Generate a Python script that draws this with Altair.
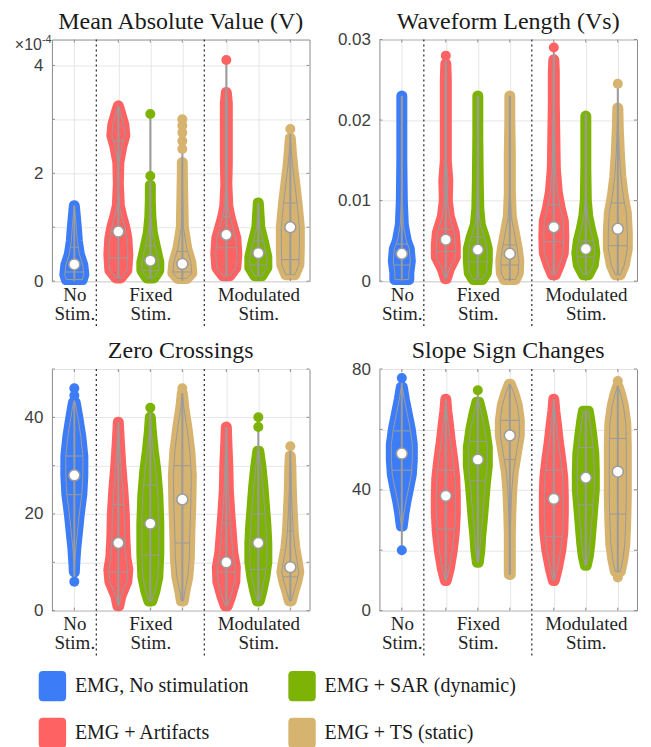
import json
import altair as alt
import numpy as np
import pandas as pd

# ---------------- categories / styling constants ----------------
GROUP_NAMES = ["EMG, No stimulation", "EMG + Artifacts", "EMG + SAR (dynamic)", "EMG + TS (static)"]
GROUP_COLORS = ["#3c7df7", "#fe6262", "#7cb305", "#d6b36f"]

VIOLIN_POS = [0, 1.375, 2.375, 3.375, 4.75, 5.75, 6.75]
VIOLIN_GROUP = [0, 1, 2, 3, 1, 2, 3]
SEPARATORS = [0.6875, 4.0625]
X_LABEL_POS = [0, 2.375, 5.75]
X_LABEL_LINES = [["No", "Stim."], ["Fixed", "Stim."], ["Modulated", "Stim."]]
X_DOMAIN = [-0.7, 7.35]
PX_PER_UNIT = 32.0

# ---------------- Mean Absolute Value (x1e-4 V) ----------------
MAV_LEVELS = [
    [0.03, 0.12, 0.3, 0.5, 0.75, 1.0, 1.2, 1.4],
    [0.06, 0.2, 0.5, 0.8, 1.0, 1.2, 1.4, 1.8, 2.2, 2.5, 2.7, 2.9, 3.1, 3.25],
    [0.06, 0.2, 0.35, 0.6, 0.9, 1.2, 1.5, 1.78],
    [0.05, 0.15, 0.35, 0.6, 1.0, 1.5, 2.0, 2.2],
    [0.1, 0.25, 0.5, 0.8, 1.0, 1.2, 1.4, 1.8, 2.2, 2.6, 3.0, 3.3, 3.5],
    [0.1, 0.25, 0.45, 0.7, 1.0, 1.3, 1.45],
    [0.12, 0.3, 0.6, 1.0, 1.4, 1.8, 2.1, 2.4, 2.65],
]
MAV_HALFW = [
    [8, 9.5, 8.5, 5, 3, 2, 1, 0],
    [2.5, 8.5, 9.5, 8.5, 6.5, 3.5, 1, 0, 0.5, 3.5, 6.5, 5.5, 2.5, 0],
    [3.5, 8.5, 8.5, 5.5, 2, 0.5, 0, 0],
    [4.5, 9.5, 8.5, 4.5, 1, 0.5, 0, 0],
    [3.5, 9.5, 10.5, 9.5, 6.5, 3.5, 1.5, 0.5, 1, 1, 1, 1, 0],
    [3.5, 8.5, 8.5, 5.5, 1.5, 0.5, 0],
    [4.5, 8.5, 9, 9, 7, 4.5, 2.5, 1, 0],
]
MAV_RANGE = [(0.0, 1.4), (0.05, 3.25), (0.05, 3.1), (0.05, 3.0), (0.1, 4.1), (0.1, 1.45), (0.12, 2.82)]
MAV_QUART = [(0.17, 0.63), (0.43, 2.6), (0.2, 0.65), (0.17, 0.55), (0.62, 1.2), (0.3, 0.75), (0.4, 1.45)]
MAV_MEDIAN = [0.31, 0.92, 0.38, 0.32, 0.86, 0.52, 1.0]
MAV_OUTLIERS = [[], [], [1.95, 3.1], [2.45, 2.6, 2.75, 2.88, 3.0], [4.1], [], [2.82]]

# ---------------- Waveform Length (x1e-3 Vs) ----------------
WL_LEVELS = [
    [0.2, 1.0, 2.5, 4.0, 5.0, 7.0, 10, 15, 20, 23],
    [0.3, 1.5, 3.0, 4.5, 6.0, 8.0, 10, 12.5, 15, 20, 25, 27],
    [0.2, 1.0, 2.5, 4.0, 5.5, 7.0, 9.0, 12, 18, 23],
    [0.2, 1.0, 2.5, 4.0, 6.0, 8.0, 11, 16, 20, 23],
    [0.8, 2.0, 3.5, 5.5, 7.5, 9.0, 11, 14, 18, 22, 26, 27.5],
    [0.8, 2.0, 3.5, 5.0, 6.5, 8.0, 10, 14, 18, 20.5],
    [0.8, 2.0, 4.0, 6.0, 8.5, 10.5, 13, 16, 19, 21.5],
]
WL_HALFW = [
    [7, 7, 8.5, 7.5, 4.5, 1.5, 0.5, 0, 0, 0],
    [0.5, 3.5, 9.5, 9.5, 8.5, 3.5, 1.5, 2, 0.5, 0.5, 0.5, 0],
    [4.5, 8.5, 9.5, 9.5, 6.5, 2.5, 1, 0.5, 0, 0],
    [5.5, 8.5, 9, 7.5, 4.5, 1.5, 0.5, 0.5, 0, 0],
    [1.5, 5.5, 9.5, 10, 9.5, 6.5, 3.5, 1.5, 1, 0.5, 0.5, 0],
    [2.5, 7.5, 9, 7.5, 4.5, 2, 0.5, 0, 0, 0],
    [2.5, 6.5, 9.5, 9.5, 8.5, 5.5, 3, 1.5, 0.5, 0],
]
WL_RANGE = [(0.1, 23), (0.3, 28), (0.2, 23), (0.2, 23), (0.8, 29), (0.8, 20.8), (0.8, 24.5)]
WL_QUART = [(2.0, 4.6), (3.7, 6.5), (2.4, 5.5), (2.0, 4.5), (4.9, 9.5), (3.0, 5.0), (4.4, 9.7)]
WL_MEDIAN = [3.4, 5.15, 3.9, 3.4, 6.7, 4.0, 6.5]
WL_OUTLIERS = [[], [28], [], [], [29], [], [24.5]]

# ---------------- Zero Crossings ----------------
ZC_LEVELS = [
    [8, 10, 13, 16, 20, 24, 28, 32, 36, 40, 43],
    [1, 3, 6, 8.5, 11, 15, 20, 25, 30, 35, 39],
    [2, 4, 7, 12, 18, 24, 29, 33, 37, 40],
    [2, 4, 7, 11, 16, 22, 28, 33, 38, 42, 45],
    [1, 3, 6, 9, 12, 16, 20, 25, 30, 35, 38],
    [2, 4, 7, 10, 14, 18, 22, 26, 30, 33],
    [2, 4, 6, 8, 10, 13, 16, 20, 25, 30, 32],
]
ZC_HALFW = [
    [0, 0.5, 1.5, 3, 5, 7.5, 8.5, 8.5, 6.5, 3.5, 1],
    [0.5, 2.5, 8.5, 9.5, 7.5, 6.5, 6, 4.5, 2.5, 1, 0],
    [1.5, 4.5, 7.5, 8.5, 8.5, 7.5, 5.5, 3, 1, 0],
    [1, 2.5, 5.5, 7, 7.5, 8.5, 9, 7.5, 4.5, 1.5, 0],
    [1, 4.5, 8.5, 9, 6.5, 5, 3.5, 2, 1.5, 0.5, 0],
    [1, 3.5, 6.5, 8.5, 8.5, 7.5, 6, 4.5, 2.5, 0.5],
    [1, 3.5, 6.5, 8.5, 7, 4.5, 3, 2, 1, 0.5, 0],
]
ZC_RANGE = [(6, 46), (1, 39), (2, 42), (2, 46), (1, 38), (2, 40), (2, 34)]
ZC_QUART = [(24, 32), (8, 22), (11.5, 26), (14, 30), (8, 18), (8.5, 20), (7, 16.5)]
ZC_MEDIAN = [28, 14, 18, 23, 10, 14, 9]
ZC_OUTLIERS = [[6, 44.5, 46], [], [42], [46], [], [38, 40], [34]]

# ---------------- Slope Sign Changes ----------------
SSC_LEVELS = [
    [28, 32, 36, 40, 45, 50, 55, 60, 65, 70, 74],
    [10, 14, 20, 26, 32, 38, 44, 50, 56, 62, 66, 70],
    [16, 20, 25, 30, 36, 42, 48, 54, 60, 65, 69],
    [12, 18, 25, 32, 40, 46, 52, 58, 63, 68, 72, 75],
    [10, 14, 20, 26, 32, 38, 44, 50, 56, 62, 66, 70],
    [15, 18, 22, 28, 34, 40, 46, 52, 58, 63, 66],
    [13, 17, 22, 30, 38, 46, 54, 62, 68, 72, 74],
]
SSC_HALFW = [
    [0.5, 2, 4, 6.5, 9.5, 10.5, 10.5, 8.5, 5.5, 2.5, 0.5],
    [0.5, 3.5, 6.5, 8.5, 9.5, 9.5, 9, 7, 4.5, 2.5, 1, 0],
    [0.5, 2, 3, 4.5, 6, 7.5, 9.5, 9.5, 7, 4, 1],
    [0.5, 0.5, 0.5, 1, 2, 3.5, 6.5, 9.5, 9.5, 7.5, 4, 0.5],
    [0.5, 3.5, 7, 9, 9.5, 9.5, 9, 7, 4.5, 2.5, 1, 0],
    [0.5, 2.5, 4, 5.5, 7, 8.5, 8.5, 8, 6, 4, 2.5],
    [2.5, 5, 7, 8, 8.5, 8.5, 8.5, 8, 5.5, 2.5, 0.5],
]
SSC_RANGE = [(20, 77), (10, 70), (16, 73), (12, 75), (10, 70), (15, 66), (11, 76)]
SSC_QUART = [(46.5, 59.5), (27, 46.5), (43, 56), (50, 63), (24.5, 46.5), (35, 54), (32, 57)]
SSC_MEDIAN = [52, 38, 50, 58, 37, 44, 46]
SSC_OUTLIERS = [[20, 77], [], [73], [], [], [], [11, 76]]

TITLES = ["Mean Absolute Value (V)", "Waveform Length (Vs)", "Zero Crossings", "Slope Sign Changes"]
EXPONENT_BASE = "×10"
EXPONENT_POWER = "-4"

W, H = 258, 242
GRAY = "#9b9b9b"
GRID = "#e6e6e6"
FRAME = "#8c8c8c"
SERIF = "'Liberation Serif', 'Times New Roman', serif"
SANS = "Liberation Sans"

ROUNDED = ("M -0.62,-1 L 0.62,-1 Q 0.9,-1 0.9,-0.72 L 0.9,0.72 Q 0.9,1 0.62,1 "
           "L -0.62,1 Q -0.9,1 -0.9,0.72 L -0.9,-0.72 Q -0.9,-1 -0.62,-1 Z")

LEGEND = alt.Legend(
    orient="none", legendX=-15, legendY=632, columns=2, title=None,
    symbolType=ROUNDED, symbolSize=930, symbolStrokeWidth=0, symbolOpacity=1,
    labelFont=SERIF, labelFontSize=20, labelColor="#1a1a1a",
    labelOffset=7, rowPadding=16, columnPadding=38, labelLimit=0,
)


def x_label_expr():
    expr = "''"
    for pos, lines in reversed(list(zip(X_LABEL_POS, X_LABEL_LINES))):
        expr = f"datum.value == {pos} ? {json.dumps(lines)} : ({expr})"
    return expr


def panel(title, levels, halfw, rng, quart, med, outl, y_domain, y_grid, y_label_expr, exponent=False):
    xscale = alt.Scale(domain=X_DOMAIN, nice=False, zero=False)
    yscale = alt.Scale(domain=y_domain, nice=False, zero=False)
    xaxis = alt.Axis(values=VIOLIN_POS, labelExpr=x_label_expr(), grid=True, gridColor=GRID,
                     ticks=False, domain=False, labelFont=SERIF, labelFontSize=19,
                     labelColor="#1f1f1f", labelAlign="center", labelBaseline="top",
                     labelPadding=4, labelLineHeight=19, labelOverlap=False, labelFlush=False,
                     title=None)
    yaxis = alt.Axis(values=y_grid, labelExpr=y_label_expr, grid=True, gridColor=GRID,
                     ticks=False, domain=False, labelFont=SANS, labelFontSize=17,
                     labelColor="#404040", labelPadding=9, labelOverlap=False, title=None)

    def X(f):
        return alt.X(f, type="quantitative", scale=xscale, axis=xaxis, title=None)

    def Y(f):
        return alt.Y(f, type="quantitative", scale=yscale, axis=yaxis, title=None)

    color = alt.Color("grp:N", scale=alt.Scale(domain=GROUP_NAMES, range=GROUP_COLORS), legend=LEGEND)
    stroke = alt.Stroke("grp:N", scale=alt.Scale(domain=GROUP_NAMES, range=GROUP_COLORS), legend=None)

    area_rows, whisk_rows, q_rows, out_rows, med_rows = [], [], [], [], []
    for v in range(len(VIOLIN_POS)):
        p = VIOLIN_POS[v]
        g = GROUP_NAMES[VIOLIN_GROUP[v]]
        for yv, w in zip(levels[v], halfw[v]):
            area_rows.append(dict(vid=v, grp=g, y=yv,
                                  lo=p - w / PX_PER_UNIT, hi=p + w / PX_PER_UNIT))
        whisk_rows.append(dict(pos=p, ymin=rng[v][0], ymax=rng[v][1]))
        for q in quart[v]:
            w = float(np.interp(q, levels[v], halfw[v]))
            q_rows.append(dict(q=q, qlo=p - w / PX_PER_UNIT, qhi=p + w / PX_PER_UNIT))
        for o in outl[v]:
            out_rows.append(dict(pos=p, val=o, grp=g))
        med_rows.append(dict(pos=p, med=med[v]))

    area_df = pd.DataFrame(area_rows).sort_values(["vid", "y"])
    sep_df = pd.DataFrame({"sep": SEPARATORS})
    title_df = pd.DataFrame({"t": [title]})
    xt_df = pd.DataFrame({"xt": VIOLIN_POS})
    yt_df = pd.DataFrame({"yt": y_grid})

    layers = []
    layers.append(alt.Chart(sep_df).mark_rule(strokeDash=[2, 3], color="#333333", strokeWidth=1.3)
                  .encode(x=X("sep"), y=alt.value(0), y2=alt.value(H + 45)))
    layers.append(alt.Chart(area_df).mark_area(orient="horizontal", strokeWidth=11, strokeJoin="round",
                                               strokeCap="round", opacity=1)
                  .encode(y=Y("y"), x=X("lo"), x2="hi", color=color, stroke=stroke,
                          detail="vid:N"))
    layers.append(alt.Chart(area_df).mark_area(orient="horizontal", fillOpacity=0, stroke=GRAY,
                                               strokeWidth=1)
                  .encode(y=Y("y"), x=X("lo"), x2="hi", detail="vid:N"))
    layers.append(alt.Chart(pd.DataFrame(whisk_rows)).mark_rule(color=GRAY, strokeWidth=2)
                  .encode(x=X("pos"), y=Y("ymin"), y2="ymax"))
    layers.append(alt.Chart(pd.DataFrame(q_rows)).mark_rule(color=GRAY, strokeWidth=1)
                  .encode(x=X("qlo"), x2="qhi", y=Y("q")))
    if out_rows:
        layers.append(alt.Chart(pd.DataFrame(out_rows)).mark_circle(size=100, opacity=1)
                      .encode(x=X("pos"), y=Y("val"), color=color))
    layers.append(alt.Chart(pd.DataFrame(med_rows)).mark_point(shape="circle", filled=True, fill="white",
                                                               stroke=GRAY, strokeWidth=1.5, size=120,
                                                               opacity=1)
                  .encode(x=X("pos"), y=Y("med")))
    # inward frame ticks (top / bottom at violin positions, left / right at y grid values)
    for y0, y1 in ((0, 3), (H - 3, H)):
        layers.append(alt.Chart(xt_df).mark_rule(color=FRAME, strokeWidth=1)
                      .encode(x=X("xt"), y=alt.value(y0), y2=alt.value(y1)))
    for x0, x1 in ((0, 3), (W - 3, W)):
        layers.append(alt.Chart(yt_df).mark_rule(color=FRAME, strokeWidth=1)
                      .encode(y=Y("yt"), x=alt.value(x0), x2=alt.value(x1)))
    layers.append(alt.Chart(title_df).mark_text(align="center", baseline="alphabetic",
                                                font=SERIF, fontSize=24, color="#1a1a1a")
                  .encode(x=alt.value(W / 2), y=alt.value(-11), text="t:N"))
    if exponent:
        edf = pd.DataFrame({"b": [EXPONENT_BASE], "p": [EXPONENT_POWER]})
        layers.append(alt.Chart(edf).mark_text(align="right", baseline="alphabetic",
                                               font=SANS, fontSize=16, color="#404040")
                      .encode(x=alt.value(-10), y=alt.value(10), text="b:N"))
        layers.append(alt.Chart(edf).mark_text(align="left", baseline="alphabetic",
                                               font=SANS, fontSize=11, color="#404040")
                      .encode(x=alt.value(-10), y=alt.value(3), text="p:N"))

    return alt.layer(*layers).properties(width=W, height=H)


p1 = panel(TITLES[0], MAV_LEVELS, MAV_HALFW, MAV_RANGE, MAV_QUART, MAV_MEDIAN, MAV_OUTLIERS,
           [0, 4.48], [0, 1, 2, 3, 4], "datum.value % 2 == 0 ? datum.label : ''", exponent=True)
p2 = panel(TITLES[1], WL_LEVELS, WL_HALFW, WL_RANGE, WL_QUART, WL_MEDIAN, WL_OUTLIERS,
           [0, 30], [0, 10, 20, 30], "datum.value == 0 ? '0' : format(datum.value / 1000, '.2f')")
p3 = panel(TITLES[2], ZC_LEVELS, ZC_HALFW, ZC_RANGE, ZC_QUART, ZC_MEDIAN, ZC_OUTLIERS,
           [0, 50], [0, 10, 20, 30, 40, 50], "datum.value % 20 == 0 ? datum.label : ''")
p4 = panel(TITLES[3], SSC_LEVELS, SSC_HALFW, SSC_RANGE, SSC_QUART, SSC_MEDIAN, SSC_OUTLIERS,
           [0, 80], [0, 20, 40, 60, 80], "datum.value % 40 == 0 ? datum.label : ''")

chart = alt.concat(p1, p2, p3, p4, columns=2, spacing={"row": 88, "column": 70}, bounds="flush") \
    .configure_view(stroke=FRAME, strokeWidth=1) \
    .properties(padding={"left": 6, "top": 0, "right": 5, "bottom": 5})

chart.save("out.html", embed_options={"renderer": "svg", "actions": False})
